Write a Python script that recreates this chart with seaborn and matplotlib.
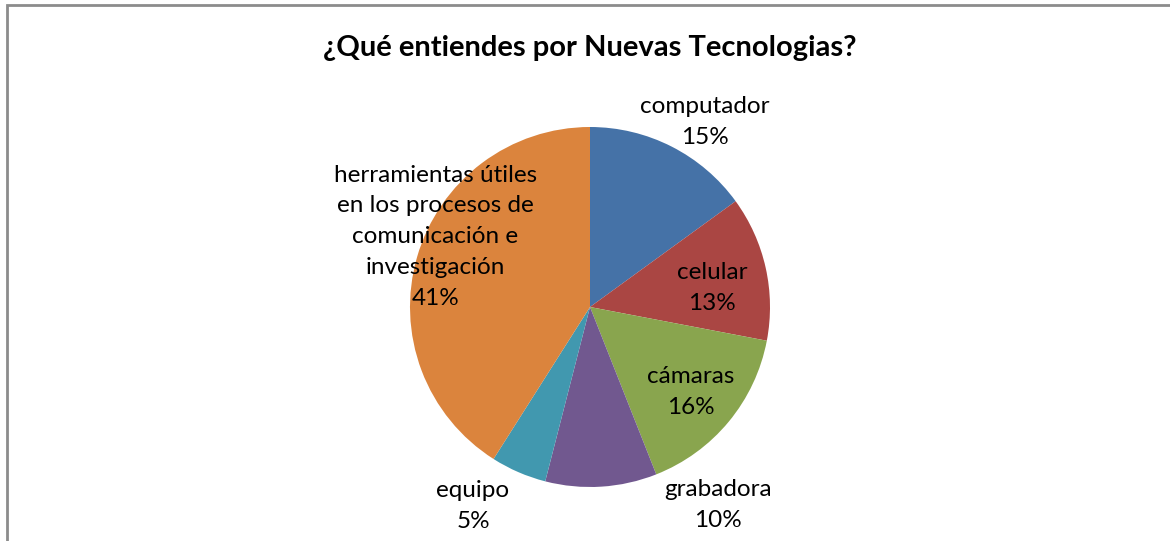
import matplotlib
matplotlib.use("Agg")
import matplotlib.pyplot as plt
import matplotlib.patches as mpatches
import seaborn as sns

# Data
categorias = ["computador", "celular", "cámaras", "grabadora", "equipo",
              "herramientas útiles\nen los procesos de\ncomunicación e\ninvestigación"]
porcentajes = [15, 13, 16, 10, 5, 41]
colores = ["#4572A7", "#AA4643", "#89A54E", "#71588F", "#4198AF", "#DB843D"]

sns.set_theme(style="white")
plt.rcParams['font.family'] = ['Lato', 'DejaVu Sans']
plt.rcParams['text.color'] = 'black'

fig = plt.figure(figsize=(11.7, 5.41), dpi=100)
ax = fig.add_axes([0, 0, 1, 1])

wedges, _ = ax.pie(porcentajes, colors=sns.color_palette(colores), startangle=90,
                   counterclock=False, radius=1, center=(0, 0),
                   wedgeprops=dict(linewidth=0), frame=True)
# pie centre at (590, 307) px, radius 180 px
ax.set_xlim(-590 / 180, 580 / 180)
ax.set_ylim(-234 / 180, 307 / 180)
ax.set_aspect("auto")
ax.axis("off")

# label positions (in pie radius units)
posiciones = [(0.64, 1.03), (0.68, 0.105), (0.56, -0.47), (0.71, -1.10),
              (-0.65, -1.105), (-0.86, 0.39)]
for cat, pct, (x, y) in zip(categorias, porcentajes, posiciones):
    ax.text(x, y, f"{cat}\n{pct}%", ha="center", va="center", fontsize=17.5,
            color="black", linespacing=1.58)

fig.text(590 / 1170, 1 - 48 / 541, "¿Qué entiendes por Nuevas Tecnologias?",
         ha="center", va="center", fontsize=21, fontweight="bold", color="black")

# outer chart frame (right and bottom sides are cropped off)
frame = mpatches.Rectangle((7 / 1170, -0.1), 1.2, 1.1 - 5 / 541,
                           transform=fig.transFigure, fill=False,
                           edgecolor="#8c8c8c", linewidth=2)
fig.patches.append(frame)

fig.savefig("out.png", dpi=100)
